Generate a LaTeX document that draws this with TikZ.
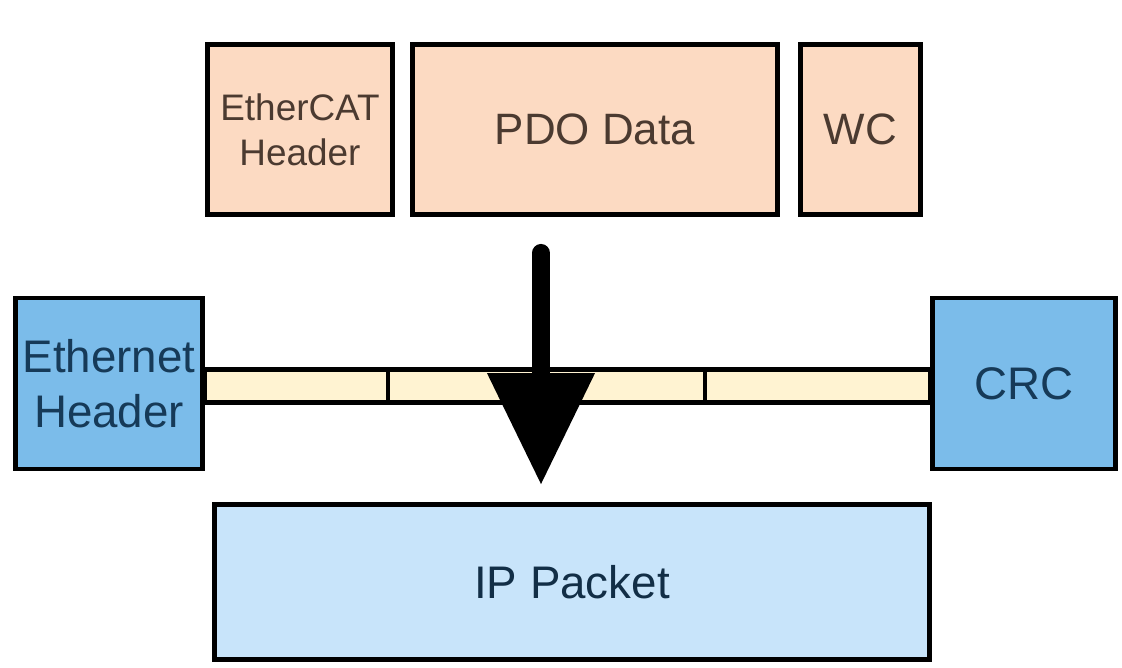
\documentclass[tikz,border=0pt]{standalone}
\usepackage{fontspec}
\setmainfont{Liberation Sans}
\usepackage{xcolor}
\usepackage{tikz}
\usetikzlibrary{arrows.meta,positioning}

\definecolor{peach}{HTML}{FCDAC2}
\definecolor{peachtxt}{HTML}{4B3A30}
\definecolor{ethblue}{HTML}{7BBCEA}
\definecolor{ethtxt}{HTML}{163A58}
\definecolor{ipblue}{HTML}{C8E4FA}
\definecolor{cream}{HTML}{FFF3D2}

\begin{document}
\begin{tikzpicture}[
    frame/.style={draw, line width=1.4pt, inner sep=0pt, align=center},
    hdr/.style={frame, fill=peach, text=peachtxt, minimum height=1.70cm,
                font=\fontsize{12.5}{15}\selectfont},
    eth/.style={frame, fill=ethblue, text=ethtxt, minimum height=1.71cm,
                font=\fontsize{13}{15.6}\selectfont},
    seg/.style={frame, fill=cream, minimum height=0.33cm},
    pkt/.style={frame, fill=ipblue, text=ethtxt!80!black,
                font=\fontsize{13}{15.6}\selectfont},
    bigarr/.style={line width=0.18cm, line cap=round,
                   -{Triangle[length=1.12cm, width=1.03cm]}}
  ]
  \useasboundingbox (0,0) rectangle (11.22,-6.68);
  % EtherCAT datagram
  \node[hdr, minimum width=1.85cm, font=\fontsize{10.5}{12.8}\selectfont]
    (ecathdr) at (3.00,-1.295) {EtherCAT\\Header};
  \node[hdr, minimum width=3.65cm] (pdo) at (5.95,-1.295) {PDO Data};
  \node[hdr, minimum width=1.20cm] (wc) at (8.605,-1.295) {WC};
  % Ethernet frame: payload strip first, header and CRC on top
  \node[seg, minimum width=1.83cm] (seg1) at (2.965,-3.86) {};
  \node[seg, minimum width=3.17cm] (seg2) at (5.465,-3.86) {};
  \node[seg, minimum width=2.25cm] (seg3) at (8.175,-3.86) {};
  \node[eth, minimum width=1.87cm] (ethhdr) at (1.09,-3.835) {Ethernet\\Header};
  \node[eth, minimum width=1.83cm] (crc) at (10.24,-3.835) {CRC};
  % IP packet
  \node[pkt, minimum width=7.15cm, minimum height=1.55cm] (ip) at (5.72,-5.82) {IP Packet};
  % mapping arrow
  \draw[bigarr] ([xshift=-0.54cm, yshift=-0.36cm]pdo.south)
    -- ([xshift=-0.31cm, yshift=0.17cm]ip.north);
\end{tikzpicture}
\end{document}
